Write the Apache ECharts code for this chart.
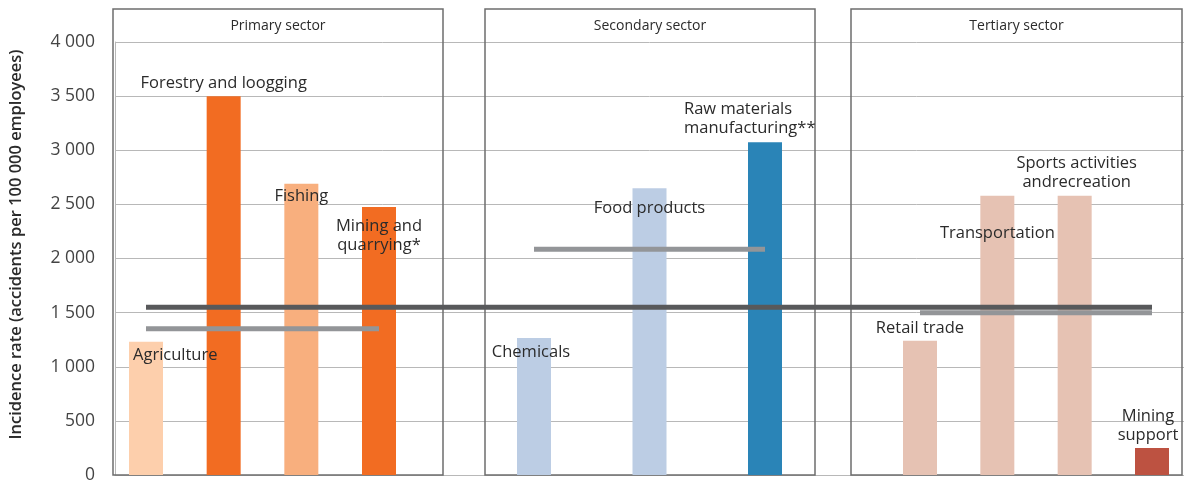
<!DOCTYPE html>
<html>
<head>
<meta charset="utf-8">
<script src="https://cdn.jsdelivr.net/npm/echarts@6/dist/echarts.min.js"></script>
<style>
html,body{margin:0;padding:0;background:#fff;}
#chart{width:1184px;height:485px;}
</style>
</head>
<body>
<div id="chart"></div>
<script>
// ---- data ----
const sectorNames = ['Primary sector', 'Secondary sector', 'Tertiary sector'];
const primaryCategories = ['Agriculture', 'Forestry and loogging', 'Fishing', 'Mining and\nquarrying*'];
const primaryValues = [1230, 3500, 2690, 2475];
const secondaryCategories = ['Chemicals', 'Food products', 'Raw materials\nmanufacturing**'];
const secondaryValues = [1265, 2650, 3075];
const tertiaryCategories = ['Retail trade', 'Transportation', 'Sports activities\nandrecreation', 'Mining\nsupport'];
const tertiaryValues = [1240, 2580, 2580, 250];
const sectorAverages = [1350, 2085, 1500];
const overallAverage = 1550;
const yTicks = [0, 500, 1000, 1500, 2000, 2500, 3000, 3500, 4000];

// ---- styles ----
const primaryColors = ['#FDCFAC', '#F26C22', '#F8AF7E', '#F26C22'];
const secondaryColors = ['#BCCDE4', '#BCCDE4', '#2A84B7'];
const tertiaryColors = ['#E6C2B3', '#E6C2B3', '#E6C2B3', '#BD5241'];
const FONT = 'Open Sans';
const labelBase = {show: true, formatter: '{b}', color: '#2b2b2b', fontFamily: FONT, fontSize: 16.5, lineHeight: 19};
const primaryLabels = [
  {position: 'insideTopLeft', distance: 4},
  {position: 'top', distance: 3},
  {position: 'insideTop', distance: 3},
  {position: 'insideTop', distance: 10}
];
const secondaryLabels = [
  {position: 'insideTop', distance: 5, offset: [-3, 0]},
  {position: 'insideTop', distance: 11},
  {position: [-64, -4], align: 'left', verticalAlign: 'bottom'}
];
const tertiaryLabels = [
  {position: 'top', distance: 3},
  {position: 'insideTop', distance: 28},
  {position: 'top', distance: 4, offset: [2, 0]},
  {position: 'top', distance: 3, offset: [-4, 0]}
];

function fmt(v) { return String(v).replace(/\B(?=(\d{3})+(?!\d))/g, ' '); }

const PLOT_TOP = 42, PLOT_BOTTOM = 10;
// panel grids span from the first bar centre to the last bar centre
const grids = [
  {left: 107, right: 0, top: PLOT_TOP, bottom: PLOT_BOTTOM},
  {left: 146, width: 233, top: PLOT_TOP, bottom: PLOT_BOTTOM},
  {left: 534, width: 231, top: PLOT_TOP, bottom: PLOT_BOTTOM},
  {left: 920, width: 232, top: PLOT_TOP, bottom: PLOT_BOTTOM},
  {left: 146, width: 1006, top: PLOT_TOP, bottom: PLOT_BOTTOM}
];
const allCategories = primaryCategories.concat(secondaryCategories, tertiaryCategories);
const panels = [
  {cats: primaryCategories, vals: primaryValues, colors: primaryColors, labels: primaryLabels},
  {cats: secondaryCategories, vals: secondaryValues, colors: secondaryColors, labels: secondaryLabels},
  {cats: tertiaryCategories, vals: tertiaryValues, colors: tertiaryColors, labels: tertiaryLabels}
];

const xAxes = [
  {gridIndex: 0, type: 'category', data: allCategories, show: true, axisLine: {lineStyle: {color: '#b8b8b8'}}, axisTick: {show: false}, axisLabel: {show: false}},
];
const yAxes = [
  {gridIndex: 0, type: 'value', min: yTicks[0], max: yTicks[yTicks.length - 1], interval: yTicks[1] - yTicks[0],
   axisLine: {show: true, lineStyle: {color: '#b8b8b8'}}, axisTick: {show: false},
   axisLabel: {formatter: fmt, color: '#444', fontFamily: FONT, fontSize: 17.5, margin: 20},
   splitLine: {lineStyle: {color: '#b8b8b8', width: 1}},
   name: 'Incidence rate (accidents per 100 000 employees)', nameLocation: 'middle', nameGap: 90,
   nameTextStyle: {color: '#2b2b2b', fontFamily: FONT, fontSize: 16.5, fontWeight: 600, padding: [0, 0, 0, 28]}}
];
const series = [];
panels.forEach((p, i) => {
  const gi = i + 1;
  xAxes.push({gridIndex: gi, type: 'category', data: p.cats, boundaryGap: false, show: false});
  yAxes.push({gridIndex: gi, type: 'value', min: 0, max: 4000, show: false});
  series.push({
    type: 'bar', xAxisIndex: gi, yAxisIndex: gi, barWidth: 34, z: 2, clip: false,
    data: p.vals.map((v, k) => ({value: v, itemStyle: {color: p.colors[k]}, label: Object.assign({}, labelBase, p.labels[k])}))
  });
  series.push({
    type: 'line', xAxisIndex: gi, yAxisIndex: gi, z: 4, showSymbol: false, symbol: 'none', silent: true, clip: false,
    data: p.cats.map(() => sectorAverages[i]),
    lineStyle: {color: '#939598', width: 5}
  });
});
xAxes.push({gridIndex: 4, type: 'category', data: allCategories, boundaryGap: false, show: false});
yAxes.push({gridIndex: 4, type: 'value', min: 0, max: 4000, show: false});
series.push({
  type: 'line', xAxisIndex: 4, yAxisIndex: 4, z: 3, showSymbol: false, symbol: 'none', silent: true,
  data: allCategories.map(() => overallAverage),
  lineStyle: {color: '#58595B', width: 5}
});

const boxes = [[113, 330], [485, 330], [851, 331]];
const graphic = [];
boxes.forEach((b, i) => {
  graphic.push({type: 'rect', z: 1, shape: {x: b[0], y: 9, width: b[1], height: 466}, style: {fill: 'none', stroke: '#6d6d6d', lineWidth: 1.5}});
  graphic.push({type: 'text', z: 5, x: b[0] + b[1] / 2, y: 26,
    style: {text: sectorNames[i], fill: '#2b2b2b', font: '14px "' + FONT + '"', textAlign: 'center', textVerticalAlign: 'middle'}});
});

const chart = echarts.init(document.getElementById('chart'), null, {renderer: 'canvas'});
chart.setOption({
  animation: false,
  backgroundColor: '#fff',
  grid: grids,
  xAxis: xAxes,
  yAxis: yAxes,
  series: series,
  graphic: graphic
});
</script>
</body>
</html>
